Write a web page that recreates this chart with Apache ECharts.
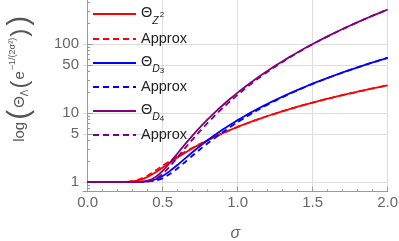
<!DOCTYPE html>
<html>
<head>
<meta charset="utf-8">
<script src="https://cdn.jsdelivr.net/npm/echarts@6/dist/echarts.min.js"></script>
<style>
html,body{margin:0;padding:0;background:#fff;}
#c{width:399px;height:241px;}
</style>
</head>
<body>
<div id="c"></div>
<script>
// sigma values (x)
const sigma = [0,0.05,0.1,0.15,0.2,0.25,0.3,0.35,0.4,0.45,0.5,0.55,0.6,0.65,0.7,0.75,0.8,0.85,0.9,0.95,1.0,1.05,1.1,1.15,1.2,1.25,1.3,1.35,1.4,1.45,1.5,1.55,1.6,1.65,1.7,1.75,1.8,1.85,1.9,1.95,2.0];
// Theta_{Z^2}
const thetaZ2  = [1,1,1,1,1,1.001,1.016,1.069,1.184,1.368,1.617,1.920,2.270,2.657,3.079,3.534,4.021,4.540,5.089,5.671,6.283,6.927,7.603,8.310,9.048,9.818,10.62,11.45,12.32,13.21,14.14,15.10,16.09,17.11,18.16,19.24,20.36,21.50,22.68,23.89,25.13];
const approxZ2 = [1,1,1,1,1,1.001,1.028,1.101,1.243,1.450,1.722,2.035,2.384,2.750,3.141,3.569,4.041,4.549,5.089,5.671,6.283,6.927,7.603,8.310,9.048,9.818,10.62,11.45,12.32,13.21,14.14,15.10,16.09,17.11,18.16,19.24,20.36,21.50,22.68,23.89,25.13];
// Theta_{D3}
const thetaD3  = [1,1,1,1,1,1,1.000,1.003,1.023,1.087,1.222,1.450,1.775,2.199,2.717,3.329,4.035,4.836,5.741,6.752,7.875,9.116,10.48,11.98,13.61,15.38,17.30,19.38,21.61,24.01,26.58,29.33,32.26,35.38,38.69,42.20,45.93,49.86,54.01,58.39,63.00];
const approxD3 = [1,1,1,1,1,1,1.000,1.000,1.013,1.044,1.130,1.312,1.580,1.946,2.418,2.979,3.632,4.377,5.253,6.246,7.363,8.615,10.01,11.52,13.20,15.00,16.96,19.08,21.35,23.77,26.36,29.15,32.09,35.23,38.57,42.12,45.93,49.86,54.01,58.39,63.00];
// Theta_{D4}
const thetaD4  = [1,1,1,1,1,1,1.000,1.007,1.046,1.173,1.449,1.917,2.609,3.543,4.745,6.248,8.085,10.30,12.95,16.08,19.74,23.99,28.90,34.52,40.93,48.19,56.38,65.56,75.83,87.26,99.93,113.9,129.4,146.3,164.9,185.1,207.2,231.2,257.2,285.4,315.8];
const approxD4 = [1,1,1,1,1,1,1.000,1.002,1.020,1.103,1.304,1.697,2.296,3.100,4.152,5.498,7.196,9.274,11.79,14.79,18.36,22.55,27.46,33.14,39.50,46.75,54.97,64.25,74.69,86.38,98.93,113.1,128.7,145.7,164.4,184.8,207.0,231.2,257.2,285.4,315.8];

// ticks
const xMajor = [0,0.5,1,1.5,2];
const xMinor = [0.1,0.2,0.3,0.4,0.6,0.7,0.8,0.9,1.1,1.2,1.3,1.4,1.6,1.7,1.8,1.9];
const xGrid = [0.5,1,1.5,2];
const yMajor = [1,5,10,50,100];
const yMinor = [0.8,0.9,2,3,4,6,7,8,9,20,30,40,60,70,80,90,200,300,400];

const legendLabels = {
  tZ2: '{t|Θ}{s|Z}{p|2}',
  aZ2: '{a|Approx}',
  tD3: '{t|Θ}{d|D}{q|3}',
  aD3: '{a|Approx}',
  tD4: '{t|Θ}{d|D}{q|4}',
  aD4: '{a|Approx}'
};

const RED = '#ff0000', BLUE = '#0000ff', PURPLE = '#800080';
const AX = '#9a9a9a', GRID = '#dcdcdc', TXT = '#666666', LTX = '#222222';
const FONT = 'Liberation Sans, Arial, sans-serif';

function pairs(ys){ return sigma.map((x,i)=>[x, ys[i]]); }
function line(name, ys, color, dashed){
  return {
    name, type:'line', data: pairs(ys), xAxisIndex:0, yAxisIndex:0,
    symbol:'none', showSymbol:false, smooth:0.2,
    lineStyle:{color, width:1.8, type: dashed ? [6,4] : 'solid'},
    itemStyle:{color}, emphasis:{disabled:true}, animation:false
  };
}
function tok(size, pad, extra){
  return Object.assign({fontSize:size, lineHeight:24, verticalAlign:'middle', padding:pad, fontFamily:FONT, color:LTX}, extra||{});
}

const chart = echarts.init(document.getElementById('c'), null, {renderer:'canvas'});
chart.setOption({
  animation:false,
  textStyle:{fontFamily:FONT},
  grid:{left:83, right:11.3, top:0, bottom:49.3, containLabel:false, outerBoundsMode:'none'},
  legend:{
    orient:'vertical', left:92, top:1, padding:0,
    itemWidth:43, itemHeight:14, itemGap:0,
    itemStyle:{opacity:0},
    data:['tZ2','aZ2','tD3','aD3','tD4','aD4'],
    formatter: n => legendLabels[n],
    textStyle:{
      fontFamily:FONT, fontSize:14.5, color:LTX, lineHeight:24,
      rich:{
        t: tok(14.5, [0,0,3,0]),
        s: tok(10.5, [15,0,0,0], {fontStyle:'italic'}),
        p: tok(8, [2,0,0,1]),
        d: tok(10.5, [12,0,0,0], {fontStyle:'italic'}),
        q: tok(8, [16,0,0,0]),
        a: tok(14.5, [0,0,0,0])
      }
    }
  },
  xAxis:[
    {
      type:'value', min:-0.031, max:2.0, position:'bottom',
      axisLine:{show:true, lineStyle:{color:AX, width:1}},
      axisTick:{show:true, inside:true, length:5, customValues:xMajor, lineStyle:{color:AX}},
      axisLabel:{customValues:xMajor, formatter:v=>Number(v).toFixed(1), fontSize:15, color:TXT, margin:4, fontFamily:FONT},
      splitLine:{show:false},
      name:'σ', nameLocation:'middle', nameGap:34,
      nameTextStyle:{fontStyle:'italic', fontSize:16, color:TXT, fontFamily:FONT}
    },
    {
      type:'value', min:-0.031, max:2.0, position:'bottom',
      axisLine:{show:false},
      axisTick:{show:true, inside:true, length:2.5, customValues:xMinor, lineStyle:{color:AX}},
      axisLabel:{show:false}, splitLine:{show:false}
    },
    {
      type:'value', min:-0.031, max:2.0, position:'bottom',
      axisLine:{show:false},
      axisTick:{show:false, customValues:xGrid},
      axisLabel:{show:false},
      splitLine:{show:true, lineStyle:{color:GRID, width:1}}
    }
  ],
  yAxis:[
    {
      type:'log', logBase:10, min:0.723, max:434, position:'left',
      axisLine:{show:true, lineStyle:{color:AX, width:1}},
      axisTick:{show:true, inside:true, length:5, customValues:yMajor, lineStyle:{color:AX}},
      axisLabel:{customValues:yMajor, formatter:v=>String(Math.round(v)), fontSize:15, color:TXT, margin:4, fontFamily:FONT},
      splitLine:{show:true, lineStyle:{color:GRID, width:1}},
      name:'{a|log}{P|(}{a|Θ}{s|Λ}{p|(}{a|e}{m|−1/(2σ²)}{p|)}{P|)}',
      nameLocation:'middle', nameRotate:90, nameGap:45,
      nameTextStyle:{
        color:'#555', fontFamily:FONT, padding:[0,0,0,36],
        rich:{
          a:{fontSize:15, lineHeight:36, verticalAlign:'middle', color:'#555', fontFamily:FONT},
          P:{fontSize:30, lineHeight:36, verticalAlign:'middle', padding:[0,2,0,2], color:'#555', fontFamily:FONT},
          p:{fontSize:24, lineHeight:36, verticalAlign:'middle', padding:[0,1,0,1], color:'#555', fontFamily:FONT},
          s:{fontSize:10, lineHeight:10, padding:[18,0,0,0], verticalAlign:'top', color:'#555', fontFamily:FONT},
          m:{fontSize:9, lineHeight:9, padding:[6,0,0,1], verticalAlign:'top', color:'#555', fontFamily:FONT}
        }
      }
    },
    {
      type:'log', logBase:10, min:0.723, max:434, position:'left',
      axisLine:{show:false},
      axisTick:{show:true, inside:true, length:2.5, customValues:yMinor, lineStyle:{color:AX}},
      axisLabel:{show:false}, splitLine:{show:false}
    }
  ],
  series:[
    line('tZ2', thetaZ2, RED, false),
    line('aZ2', approxZ2, RED, true),
    line('tD3', thetaD3, BLUE, false),
    line('aD3', approxD3, BLUE, true),
    line('tD4', thetaD4, PURPLE, false),
    line('aD4', approxD4, PURPLE, true)
  ]
});
</script>
</body>
</html>
